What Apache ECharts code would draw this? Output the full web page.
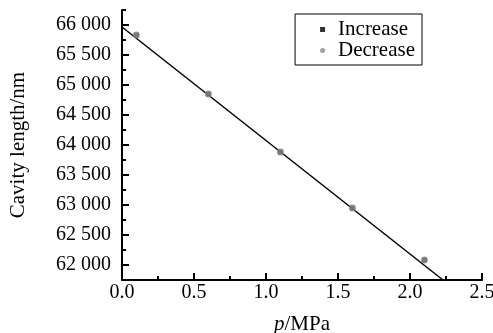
<!DOCTYPE html>
<html>
<head>
<meta charset="utf-8">
<script src="https://cdn.jsdelivr.net/npm/echarts@6/dist/echarts.min.js"></script>
<style>
  html, body { margin: 0; padding: 0; background: #fff; }
  #chart { width: 493px; height: 333px; }
</style>
</head>
<body>
<div id="chart"></div>
<script>
// pressure (MPa) and cavity length (nm)
const pressure = [0.1, 0.6, 1.1, 1.6, 2.1]
const increaseLen = [65833, 64850, 63883, 62950, 62083]
const decreaseLen = [65833, 64850, 63883, 62950, 62083]
// fitted line end points
const fitP = [0, 2.229]
const fitLen = [65967, 61750]
const yTicks = [62000, 62500, 63000, 63500, 64000, 64500, 65000, 65500, 66000]

const font = 'Liberation Serif'
const chart = echarts.init(document.getElementById('chart'))

const fmtY = v => String(v).replace(/(\d{2})(\d{3})$/, '$1 $2')

chart.setOption({
    animation: false,
    textStyle: { fontFamily: font },
    grid: { left: 122, right: 11, top: 10, bottom: 53, outerBoundsMode: 'none', containLabel: false },
    legend: {
        orient: 'vertical',
        right: 71,
        top: 14,
        borderColor: '#000',
        borderWidth: 1,
        borderRadius: 0,
        padding: [5, 7, 4, 25],
        itemGap: 0,
        itemWidth: 5,
        itemHeight: 5,
        textStyle: { fontFamily: font, fontSize: 21, lineHeight: 19, color: '#000', padding: [0, 0, 0, 8] },
        data: [
            { name: 'Increase', icon: 'rect' },
            { name: 'Decrease', icon: 'circle' }
        ]
    },
    xAxis: {
        type: 'value',
        min: 0,
        max: 2.5,
        interval: 0.5,
        name: '{i|p}/MPa',
        nameLocation: 'middle',
        nameGap: 34,
        nameTextStyle: {
            fontFamily: font, fontSize: 21, color: '#000',
            rich: { i: { fontStyle: 'italic', fontFamily: font, fontSize: 21 } }
        },
        axisLine: { lineStyle: { color: '#000', width: 2 } },
        axisTick: { inside: true, length: 7, lineStyle: { color: '#000', width: 2 } },
        minorTick: { show: true, splitNumber: 2, length: 4, lineStyle: { color: '#000', width: 2 } },
        axisLabel: { fontFamily: font, fontSize: 20, color: '#000', margin: 3, formatter: v => v.toFixed(1) },
        splitLine: { show: false }
    },
    yAxis: [{
        type: 'value',
        min: 61750,
        max: 66250,
        interval: 250,
        name: 'Cavity length/nm',
        nameLocation: 'middle',
        nameGap: 93,
        nameTextStyle: { fontFamily: font, fontSize: 21, color: '#000' },
        axisLine: { lineStyle: { color: '#000', width: 2 } },
        axisTick: { inside: true, length: 7, lineStyle: { color: '#000', width: 2 }, customValues: yTicks },
        axisLabel: { fontFamily: font, fontSize: 20, color: '#000', margin: 11, customValues: yTicks, formatter: fmtY },
        splitLine: { show: false }
    }, {
        type: 'value',
        position: 'left',
        min: 61750,
        max: 66250,
        interval: 250,
        axisLine: { show: false },
        axisTick: { inside: true, length: 4, lineStyle: { color: '#000', width: 2 } },
        axisLabel: { show: false },
        splitLine: { show: false }
    }],
    series: [{
        name: 'fit',
        type: 'line',
        data: fitP.map((p, i) => [p, fitLen[i]]),
        symbol: 'none',
        lineStyle: { color: '#000', width: 1.5 },
        z: 1
    }, {
        name: 'Increase',
        type: 'scatter',
        data: pressure.map((p, i) => [p, increaseLen[i]]),
        symbol: 'rect',
        symbolSize: 5,
        itemStyle: { color: '#000' },
        z: 2
    }, {
        name: 'Decrease',
        type: 'scatter',
        data: pressure.map((p, i) => [p, decreaseLen[i]]),
        symbol: 'circle',
        symbolSize: 7,
        itemStyle: { color: '#8c8c8c' },
        z: 3
    }]
})
</script>
</body>
</html>
